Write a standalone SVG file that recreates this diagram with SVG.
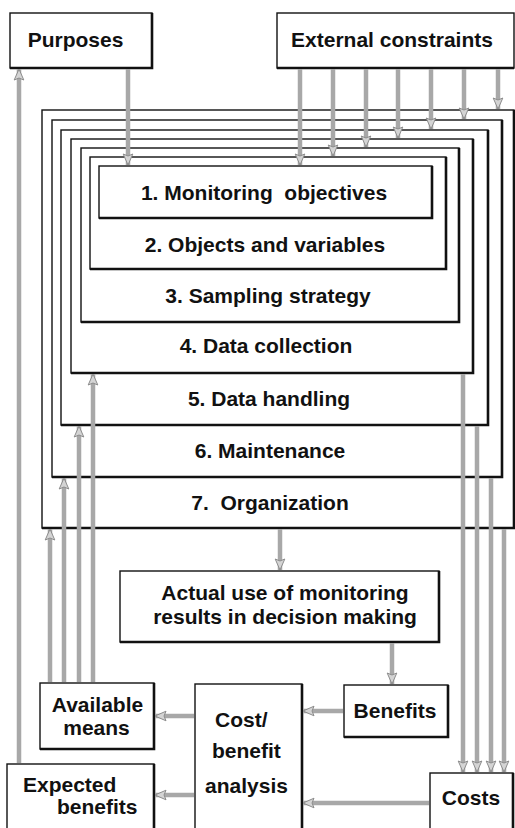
<svg xmlns="http://www.w3.org/2000/svg" width="515" height="828" viewBox="0 0 515 828">
<style>
.bx{fill:#fff;stroke:#111;stroke-width:1.4}
.sd{fill:none;stroke:#111;stroke-width:2.6}
.t{font-family:"Liberation Sans",Arial,sans-serif;font-weight:bold;font-size:21px;fill:#111;white-space:pre}
.c{text-anchor:middle}
.ar{stroke:#a8a8a8;stroke-width:4.5;fill:none;marker-end:url(#h)}
.ai{stroke:#e2e2e2;stroke-width:1.6;fill:none}
</style>
<defs>
<marker id="h" markerUnits="userSpaceOnUse" markerWidth="14" markerHeight="12" viewBox="-12 -6 14 12" refX="0" refY="0" orient="auto">
<path d="M0,0 L-11,-4.8 L-9,0 L-11,4.8 Z" fill="#d4d4d4" stroke="#8c8c8c" stroke-width="1"/>
</marker>
</defs>

<g id="purposes">
<rect class="bx" x="10" y="13" width="142" height="55"/>
<polyline class="sd" points="10,68 152,68 152,13"/>
<text class="t c" x="75.5" y="47">Purposes</text>
</g>
<g id="external">
<rect class="bx" x="277" y="13" width="237" height="55"/>
<polyline class="sd" points="277,68 514,68"/>
<text class="t c" x="392" y="47">External constraints</text>
</g>

<g id="box7">
<rect class="bx" x="42" y="110" width="472" height="418"/>
<polyline class="sd" points="42,528 514,528 514,110"/>
<text class="t c" x="270" y="510">7.  Organization</text>
</g>
<g id="box6">
<rect class="bx" x="52" y="120" width="450" height="357"/>
<polyline class="sd" points="52,477 502,477 502,120"/>
<text class="t c" x="270" y="458">6. Maintenance</text>
</g>
<g id="box5">
<rect class="bx" x="61" y="130" width="427" height="295"/>
<polyline class="sd" points="61,425 488,425 488,130"/>
<text class="t c" x="269" y="406">5. Data handling</text>
</g>
<g id="box4">
<rect class="bx" x="71" y="139" width="402" height="234"/>
<polyline class="sd" points="71,373 473,373 473,139"/>
<text class="t c" x="266" y="353">4. Data collection</text>
</g>
<g id="box3">
<rect class="bx" x="81" y="148" width="378" height="174"/>
<polyline class="sd" points="81,322 459,322 459,148"/>
<text class="t c" x="268" y="303">3. Sampling strategy</text>
</g>
<g id="box2">
<rect class="bx" x="90" y="157" width="356" height="112"/>
<polyline class="sd" points="90,269 446,269 446,157"/>
<text class="t c" x="265" y="252">2. Objects and variables</text>
</g>
<g id="box1">
<rect class="bx" x="99" y="166" width="333" height="52"/>
<polyline class="sd" points="99,218 432,218 432,166"/>
<text class="t c" x="264" y="200">1. Monitoring  objectives</text>
</g>

<g id="actual-use">
<rect class="bx" x="120" y="571" width="319" height="71"/>
<polyline class="sd" points="120,642 439,642 439,571"/>
<text class="t c" x="285" y="600">Actual use of monitoring</text>
<text class="t c" x="285" y="624">results in decision making</text>
</g>
<g id="benefits">
<rect class="bx" x="344" y="685" width="104" height="52"/>
<polyline class="sd" points="344,737 448,737 448,685"/>
<text class="t c" x="395" y="718">Benefits</text>
</g>
<g id="available-means">
<rect class="bx" x="40" y="683" width="114" height="66"/>
<polyline class="sd" points="40,749 154,749 154,683"/>
<text class="t c" x="97.5" y="712">Available</text>
<text class="t c" x="96.5" y="735">means</text>
</g>
<g id="cost-benefit">
<rect class="bx" x="195" y="684" width="107" height="150"/>
<polyline class="sd" points="302,684 302,834"/>
<text class="t" x="215" y="727">Cost/</text>
<text class="t" x="212" y="758">benefit</text>
<text class="t" x="205" y="793">analysis</text>
</g>
<g id="expected-benefits">
<rect class="bx" x="7" y="764" width="147" height="70"/>
<polyline class="sd" points="154,764 154,834"/>
<text class="t" x="23" y="792">Expected</text>
<text class="t" x="57" y="814">benefits</text>
</g>
<g id="costs">
<rect class="bx" x="430" y="773" width="83" height="61"/>
<polyline class="sd" points="513,773 513,834"/>
<text class="t c" x="471" y="805">Costs</text>
</g>

<g id="connectors">
<path class="ar" d="M128,69 V165"/>
<path class="ar" d="M300,69 V165"/>
<path class="ar" d="M333,69 V156"/>
<path class="ar" d="M366,69 V147"/>
<path class="ar" d="M398,69 V138"/>
<path class="ar" d="M431,69 V129"/>
<path class="ar" d="M464,69 V119"/>
<path class="ar" d="M498,69 V109"/>
<path class="ar" d="M19,763 V69"/>
<path class="ar" d="M50,682 V529"/>
<path class="ar" d="M64,682 V478"/>
<path class="ar" d="M79,682 V426"/>
<path class="ar" d="M93,682 V374"/>
<path class="ar" d="M463,374 V772"/>
<path class="ar" d="M477,426 V772"/>
<path class="ar" d="M491,478 V772"/>
<path class="ar" d="M504,529 V772"/>
<path class="ar" d="M280,529 V570"/>
<path class="ar" d="M392,643 V684"/>
<path class="ar" d="M194,716 H155"/>
<path class="ar" d="M194,795 H155"/>
<path class="ar" d="M343,711 H303"/>
<path class="ar" d="M429,803 H303"/>
</g>
</svg>
